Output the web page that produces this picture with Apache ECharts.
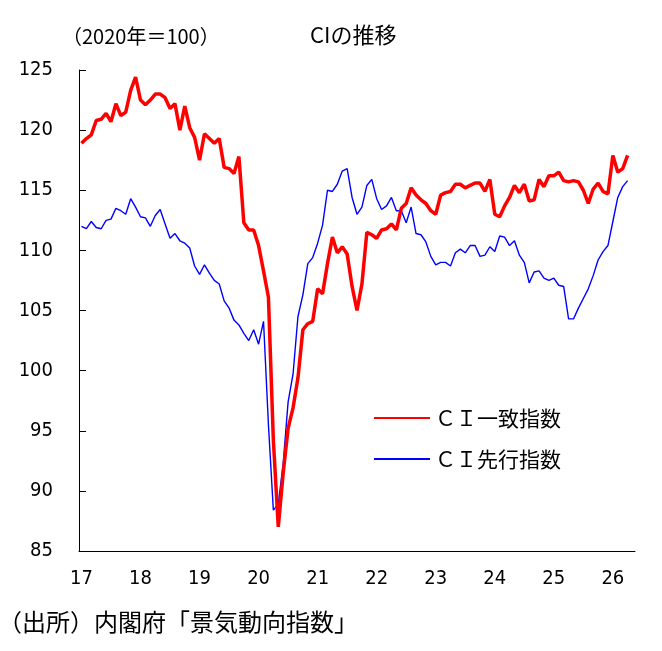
<!DOCTYPE html>
<html>
<head>
    <meta charset="utf-8">
    <title>CIの推移</title>
    <script src="https://cdn.jsdelivr.net/npm/echarts@6/dist/echarts.min.js"></script>
</head>
<body style="margin:0;">
    <div id="main" style="width:662px;height:651px;"></div>
    <script type="text/javascript">

// 年ラベル（各年1月に表示）
var yearLabels = ['17', '18', '19', '20', '21', '22', '23', '24', '25', '26'];

// CI一致指数 2017/01〜2026/04（月次）
var coincident = [
    118.9, 119.3, 119.6, 120.8, 120.9, 121.4, 120.7, 122.2, 121.2, 121.5, 123.3, 124.4,
    122.5, 122.1, 122.5, 123.0, 123.0, 122.7, 121.8, 122.2, 120.0, 122.0, 120.2, 119.4,
    117.5, 119.7, 119.3, 118.9, 119.3, 116.9, 116.8, 116.4, 117.8, 112.3, 111.7, 111.7,
    110.4, 108.3, 106.1, 94.2, 87.0, 91.5, 95.2, 96.9, 99.4, 103.4, 103.9, 104.1,
    106.8, 106.4, 108.9, 111.1, 109.8, 110.3, 109.7, 107.0, 105.0, 107.2, 111.5, 111.3,
    111.0, 111.7, 111.8, 112.2, 111.7, 113.5, 113.9, 115.2, 114.6, 114.2, 113.9, 113.3,
    113.0, 114.6, 114.8, 114.9, 115.5, 115.5, 115.2, 115.4, 115.6, 115.6, 114.9, 115.9,
    113.0, 112.8, 113.7, 114.4, 115.4, 114.8, 115.5, 114.1, 114.2, 115.9, 115.3, 116.2,
    116.2, 116.5, 115.8, 115.7, 115.8, 115.7, 115.0, 113.9, 115.1, 115.6, 114.9, 114.7,
    117.9, 116.5, 116.8, 117.9
];

// CI先行指数 2017/01〜2026/04（月次）
var leading = [
    112.0, 111.8, 112.4, 111.9, 111.8, 112.5, 112.6, 113.5, 113.3, 113.0, 114.3, 113.6,
    112.8, 112.7, 112.0, 112.9, 113.4, 112.2, 111.0, 111.4, 110.8, 110.6, 110.2, 108.7,
    108.0, 108.8, 108.1, 107.5, 107.2, 105.8, 105.2, 104.2, 103.8, 103.1, 102.5, 103.4,
    102.2, 104.1, 95.5, 88.4, 88.9, 92.3, 97.4, 99.7, 104.5, 106.3, 108.9, 109.4,
    110.6, 112.1, 115.0, 114.9, 115.5, 116.6, 116.8, 114.4, 113.0, 113.6, 115.4, 115.9,
    114.3, 113.4, 113.7, 114.4, 113.3, 113.3, 112.3, 113.6, 111.4, 111.3, 110.7, 109.5,
    108.8, 109.0, 109.0, 108.7, 109.8, 110.1, 109.8, 110.4, 110.4, 109.5, 109.6, 110.3,
    109.9, 111.2, 111.1, 110.4, 110.8, 109.6, 109.0, 107.3, 108.2, 108.3, 107.7, 107.5,
    107.7, 107.1, 107.0, 104.3, 104.3, 105.2, 106.0, 106.8, 107.9, 109.2, 109.9, 110.4,
    112.4, 114.4, 115.3, 115.8
];

// 横軸は2026年5月まで（最後の月はデータなし）
var months = [];
yearLabels.forEach(function (y) {
    for (var m = 1; m <= 12; m++) {
        months.push(y + '/' + (m < 10 ? '0' + m : m));
    }
});
months = months.slice(0, 113);

var numFont = '"Liberation Sans Narrow", "DejaVu Sans Condensed", sans-serif';
var jpFont = '"Noto Sans CJK JP", sans-serif';

var myChart = echarts.init(document.getElementById('main'));

var option = {
    animation: false,
    backgroundColor: '#ffffff',
    grid: {
        left: 79,
        right: 27,
        top: 70,
        bottom: 100,
        containLabel: false,
        outerBoundsMode: 'none'
    },
    graphic: [{
        type: 'text',
        left: 310,
        top: 24,
        style: {text: 'CIの推移', font: '22px ' + jpFont, fill: '#000'}
    }, {
        type: 'text',
        left: 62,
        top: 26,
        style: {text: '（2020年＝100）', font: '20px ' + jpFont, fill: '#000'}
    }, {
        type: 'text',
        left: -2,
        top: 610,
        style: {text: '（出所）内閣府「景気動向指数」', font: '24px ' + jpFont, fill: '#000'}
    }],
    legend: {
        orient: 'vertical',
        left: 368,
        top: 402,
        itemWidth: 56,
        itemHeight: 14,
        itemGap: 19,
        itemStyle: {opacity: 0},
        textStyle: {
            fontFamily: jpFont,
            fontSize: 21,
            lineHeight: 22,
            color: '#000'
        },
        data: ['ＣＩ一致指数', 'ＣＩ先行指数']
    },
    xAxis: {
        type: 'category',
        data: months,
        boundaryGap: true,
        axisLine: {lineStyle: {color: '#000', width: 1}},
        axisTick: {
            interval: 0,
            inside: true,
            length: 5,
            lineStyle: {color: '#000'}
        },
        axisLabel: {
            interval: function (index) { return index % 12 === 0; },
            formatter: function (value) { return value.split('/')[0]; },
            margin: 18,
            color: '#000',
            fontFamily: numFont,
            fontSize: 20
        },
        splitLine: {show: false}
    },
    yAxis: {
        type: 'value',
        min: 85,
        max: 125,
        interval: 5,
        axisLine: {show: true, lineStyle: {color: '#000', width: 1}},
        axisTick: {show: true, inside: true, length: 7, lineStyle: {color: '#000'}},
        axisLabel: {
            margin: 26,
            color: '#000',
            fontFamily: numFont,
            fontSize: 20
        },
        splitLine: {show: false}
    },
    series: [{
        name: 'ＣＩ一致指数',
        type: 'line',
        data: coincident,
        symbol: 'none',
        z: 3,
        lineStyle: {color: '#ff0000', width: 3.5},
        itemStyle: {color: '#ff0000'}
    }, {
        name: 'ＣＩ先行指数',
        type: 'line',
        data: leading,
        symbol: 'none',
        z: 2,
        lineStyle: {color: '#0000ff', width: 1.4},
        itemStyle: {color: '#0000ff'}
    }]
};

myChart.setOption(option);
    </script>
</body>
</html>
